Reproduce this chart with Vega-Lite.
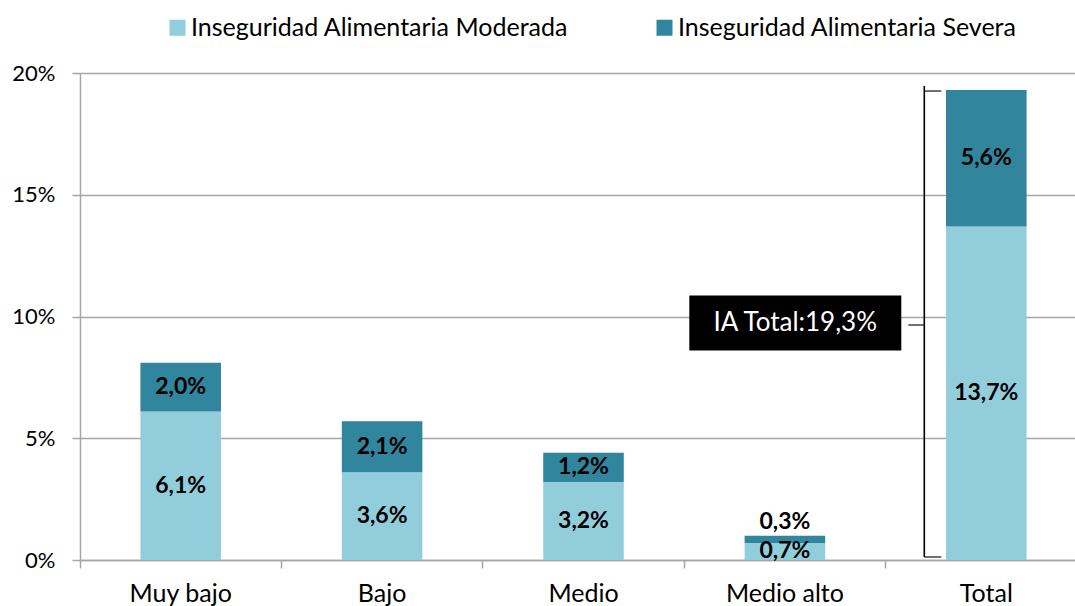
{
  "$schema": "https://vega.github.io/schema/vega-lite/v6.json",
  "width": 1007,
  "height": 487,
  "autosize": {"type": "none"},
  "padding": {"left": 80, "top": 73, "right": 0, "bottom": 46},
  "background": "white",
  "config": {
    "view": {"stroke": null},
    "font": "Lato",
    "axis": {"labelFont": "Lato", "labelFontSize": 22, "labelColor": "#000000", "titleFont": "Lato"},
    "legend": {"labelFont": "Lato", "labelFontSize": 22, "labelColor": "#000000", "labelLimit": 0}
  },
  "datasets": {
    "barras": [
      {"cat": "Muy bajo", "serie": "Inseguridad Alimentaria Moderada", "valor": 6.1},
      {"cat": "Muy bajo", "serie": "Inseguridad Alimentaria Severa", "valor": 2.0},
      {"cat": "Bajo", "serie": "Inseguridad Alimentaria Moderada", "valor": 3.6},
      {"cat": "Bajo", "serie": "Inseguridad Alimentaria Severa", "valor": 2.1},
      {"cat": "Medio", "serie": "Inseguridad Alimentaria Moderada", "valor": 3.2},
      {"cat": "Medio", "serie": "Inseguridad Alimentaria Severa", "valor": 1.2},
      {"cat": "Medio alto", "serie": "Inseguridad Alimentaria Moderada", "valor": 0.7},
      {"cat": "Medio alto", "serie": "Inseguridad Alimentaria Severa", "valor": 0.3},
      {"cat": "Total", "serie": "Inseguridad Alimentaria Moderada", "valor": 13.7},
      {"cat": "Total", "serie": "Inseguridad Alimentaria Severa", "valor": 5.6}
    ],
    "anotacion": [
      {"cat": "Total", "base": 0, "total": 19.3, "texto": "IA Total:19,3%"}
    ]
  },
  "layer": [
    {
      "data": {"name": "barras"},
      "mark": {"type": "bar", "width": {"band": 0.4}},
      "encoding": {
        "x": {
          "field": "cat", "type": "nominal",
          "scale": {"domain": ["Muy bajo", "Bajo", "Medio", "Medio alto", "Total"], "paddingInner": 0, "paddingOuter": 0},
          "axis": {
            "title": null, "labelAngle": 0, "bandPosition": 0,
            "domainColor": "#A6A6A6", "domainWidth": 1.5,
            "tickColor": "#A6A6A6", "tickWidth": 1.5, "tickSize": 8,
            "labelPadding": 13, "labelFontSize": 25, "grid": false
          }
        },
        "y": {
          "field": "valor", "type": "quantitative", "stack": "zero",
          "scale": {"domain": [0, 20], "nice": false},
          "axis": {
            "title": null, "values": [0, 5, 10, 15, 20],
            "labelExpr": "datum.value + '%'",
            "grid": true, "gridColor": "#A6A6A6", "gridWidth": 1.5,
            "domainColor": "#A6A6A6", "domainWidth": 1.5,
            "tickColor": "#A6A6A6", "tickWidth": 1.5, "tickSize": 8,
            "labelPadding": 17
          }
        },
        "color": {
          "field": "serie", "type": "nominal",
          "scale": {"domain": ["Inseguridad Alimentaria Moderada", "Inseguridad Alimentaria Severa"], "range": ["#92CDDC", "#31859C"]},
          "legend": {
            "title": null, "orient": "none", "direction": "horizontal",
            "legendX": 85, "legendY": -58,
            "symbolType": "square", "symbolSize": 256, "symbolStrokeWidth": 0,
            "symbolOpacity": 1, "labelOffset": 1, "columnPadding": 83, "labelFontSize": 25
          }
        },
        "order": {"field": "serie", "type": "nominal", "sort": "ascending"}
      }
    },
    {
      "data": {"name": "barras"},
      "transform": [
        {"stack": "valor", "groupby": ["cat"], "sort": [{"field": "serie", "order": "ascending"}], "as": ["v0", "v1"]},
        {"calculate": "(datum.v0 + datum.v1) / 2", "as": "medio"},
        {"calculate": "replace(format(datum.valor, '.1f'), '.', ',') + '%'", "as": "etiqueta"},
        {"filter": "!(datum.serie == 'Inseguridad Alimentaria Severa' && datum.valor < 0.5)"}
      ],
      "mark": {"type": "text", "fontSize": 23, "fontWeight": "bold", "color": "#000000", "baseline": "middle"},
      "encoding": {
        "x": {"field": "cat", "type": "nominal"},
        "y": {"field": "medio", "type": "quantitative"},
        "text": {"field": "etiqueta", "type": "nominal"}
      }
    },
    {
      "data": {"name": "barras"},
      "transform": [
        {"stack": "valor", "groupby": ["cat"], "sort": [{"field": "serie", "order": "ascending"}], "as": ["v0", "v1"]},
        {"calculate": "replace(format(datum.valor, '.1f'), '.', ',') + '%'", "as": "etiqueta"},
        {"filter": "datum.serie == 'Inseguridad Alimentaria Severa' && datum.valor < 0.5"}
      ],
      "mark": {"type": "text", "fontSize": 23, "fontWeight": "bold", "color": "#000000", "baseline": "bottom", "dy": -2},
      "encoding": {
        "x": {"field": "cat", "type": "nominal"},
        "y": {"field": "v1", "type": "quantitative"},
        "text": {"field": "etiqueta", "type": "nominal"}
      }
    },
    {
      "data": {"name": "anotacion"},
      "mark": {"type": "rule", "color": "#000000", "strokeWidth": 1.6, "xOffset": -62, "y2Offset": -4, "yOffset": -3},
      "encoding": {
        "x": {"field": "cat", "type": "nominal"},
        "y": {"field": "base", "type": "quantitative"},
        "y2": {"field": "total"}
      }
    },
    {
      "data": {"name": "anotacion"},
      "mark": {"type": "tick", "orient": "horizontal", "color": "#000000", "size": 17, "thickness": 1.6, "xOffset": -53.5, "yOffset": 1},
      "encoding": {
        "x": {"field": "cat", "type": "nominal"},
        "y": {"field": "total", "type": "quantitative"}
      }
    },
    {
      "data": {"name": "anotacion"},
      "mark": {"type": "tick", "orient": "horizontal", "color": "#000000", "size": 17, "thickness": 1.6, "xOffset": -53.5, "yOffset": -3},
      "encoding": {
        "x": {"field": "cat", "type": "nominal"},
        "y": {"field": "base", "type": "quantitative"}
      }
    },
    {
      "data": {"name": "anotacion"},
      "transform": [{"calculate": "datum.total / 2", "as": "mitad"}],
      "mark": {"type": "tick", "orient": "horizontal", "color": "#000000", "size": 16, "thickness": 1.6, "xOffset": -70},
      "encoding": {
        "x": {"field": "cat", "type": "nominal"},
        "y": {"field": "mitad", "type": "quantitative"}
      }
    },
    {
      "data": {"name": "anotacion"},
      "transform": [{"calculate": "datum.total / 2", "as": "mitad"}],
      "mark": {"type": "point", "shape": "M-1,-0.2594H1V0.2594H-1Z", "size": 44944, "filled": true, "color": "#000000", "opacity": 1, "xOffset": -191, "yOffset": -2},
      "encoding": {
        "x": {"field": "cat", "type": "nominal"},
        "y": {"field": "mitad", "type": "quantitative"}
      }
    },
    {
      "data": {"name": "anotacion"},
      "transform": [{"calculate": "datum.total / 2", "as": "mitad"}],
      "mark": {"type": "text", "fontSize": 26, "color": "#FFFFFF", "baseline": "middle", "align": "center", "xOffset": -191, "yOffset": -2},
      "encoding": {
        "x": {"field": "cat", "type": "nominal"},
        "y": {"field": "mitad", "type": "quantitative"},
        "text": {"field": "texto", "type": "nominal"}
      }
    }
  ]
}
